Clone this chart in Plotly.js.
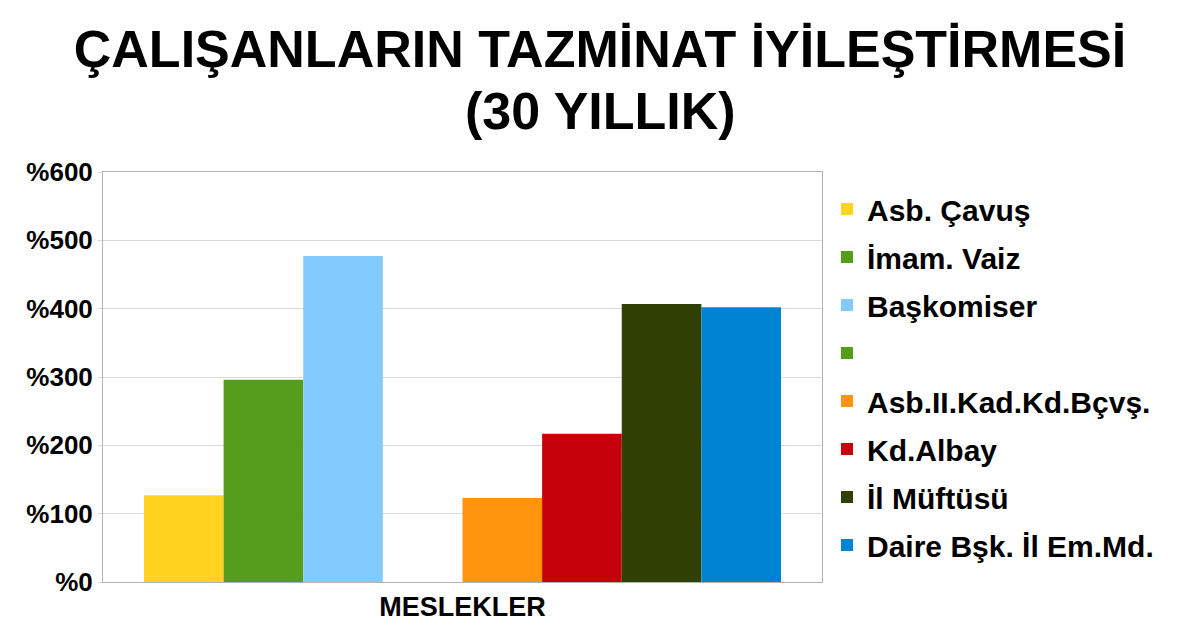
<!DOCTYPE html>
<html>
<head>
<meta charset="utf-8">
<script src="https://cdn.plot.ly/plotly-3.0.1.min.js"></script>
<style>html,body{margin:0;padding:0;background:#fff}#chart{width:1200px;height:643px}</style>
</head>
<body>
<div id="chart"></div>
<script>
const categories = ["MESLEKLER"];
const seriesNames = ["Asb. Çavuş", "İmam. Vaiz", "Başkomiser", "", "Asb.II.Kad.Kd.Bçvş.", "Kd.Albay", "İl Müftüsü", "Daire Bşk. İl Em.Md."];
const seriesValues = [127, 296, 477, null, 123, 217, 407, 402];
const seriesColors = ["#ffd320", "#579d1c", "#83caff", "#579d1c", "#ff950e", "#c5000b", "#314004", "#0084d1"];
const tickVals = [0, 100, 200, 300, 400, 500, 600];
const tickLabels = ["%0", "%100", "%200", "%300", "%400", "%500", "%600"];
const titleLine1 = "ÇALIŞANLARIN TAZMİNAT İYİLEŞTİRMESİ";
const titleLine2 = "(30 YILLIK)";

const FONT = "Liberation Sans, Arial, sans-serif";

const traces = seriesNames.map((name, i) => ({
  type: "bar",
  name: name,
  x: categories,
  y: [seriesValues[i]],
  marker: {color: seriesColors[i], line: {width: 0}},
  legendgroup: "g" + i,
  hoverinfo: "y+name"
}));

const layout = {
  width: 1200,
  height: 643,
  margin: {l: 103, r: 378, t: 172, b: 61, pad: 0},
  paper_bgcolor: "#ffffff",
  plot_bgcolor: "#ffffff",
  font: {family: FONT, color: "#000000"},
  title: {
    text: titleLine1,
    font: {family: FONT, size: 52, weight: "bold", color: "#000"},
    x: 0.5, xref: "container", xanchor: "center",
    y: 1 - 49 / 643, yref: "container", yanchor: "middle"
  },
  annotations: [{
    text: titleLine2,
    xref: "paper", x: 0.5 + (600 - 462.5) / 719, xanchor: "center",
    yref: "paper", y: (582 - 111) / 410, yanchor: "middle",
    showarrow: false,
    font: {family: FONT, size: 52, weight: "bold", color: "#000"}
  }],
  barmode: "group",
  bargap: 0.114,
  bargroupgap: 0,
  showlegend: true,
  legend: {
    x: (827 - 103) / 719, xanchor: "left",
    y: (582 - 183) / 410, yanchor: "top",
    font: {family: FONT, size: 30, weight: "bold", color: "#000"},
    tracegroupgap: 6,
    traceorder: "grouped",
    bgcolor: "rgba(0,0,0,0)"
  },
  xaxis: {
    type: "category",
    showgrid: false,
    showline: true, linecolor: "#b3b3b3", linewidth: 1,
    mirror: true,
    ticks: "",
    ticklabelstandoff: 1,
    tickfont: {family: FONT, size: 27, weight: "bold", color: "#000"},
    zeroline: false
  },
  yaxis: {
    range: [0, 600],
    tickmode: "array",
    tickvals: tickVals,
    ticktext: tickLabels,
    showgrid: true, gridcolor: "#d9d9d9", gridwidth: 1,
    showline: true, linecolor: "#b3b3b3", linewidth: 1,
    mirror: true,
    ticks: "outside", ticklen: 4, tickcolor: "#d9d9d9",
    tickfont: {family: FONT, size: 26, weight: "bold", color: "#000"},
    zeroline: false
  }
};

Plotly.newPlot("chart", traces, layout, {displayModeBar: false, staticPlot: true});
</script>
</body>
</html>
